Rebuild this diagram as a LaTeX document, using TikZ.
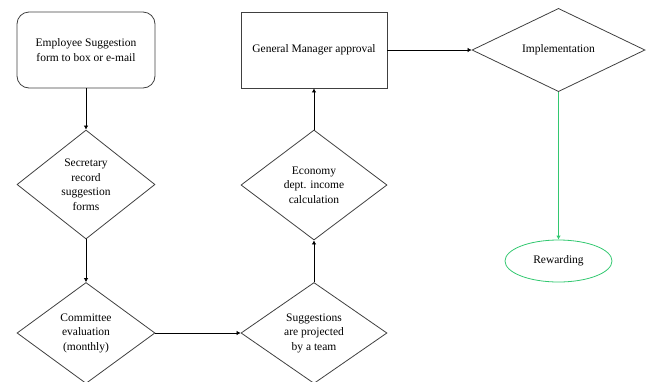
\documentclass[tikz,border=0pt]{standalone}
\usepackage{fontspec}
\setmainfont{Liberation Serif}
\usetikzlibrary{shapes.geometric,arrows.meta}
\definecolor{lineg}{RGB}{64,64,64}
\definecolor{greenl}{RGB}{50,200,112}
\begin{document}
\begin{tikzpicture}[x=1pt,y=-1pt,
  every node/.style={font=\fontsize{11.5}{14.5}\selectfont, align=center, text=black},
  boxr/.style={draw=lineg, line width=0.8pt, rounded corners=12pt, inner sep=0pt, minimum width=138pt, minimum height=76pt},
  boxs/.style={draw=lineg, line width=0.8pt, inner sep=0pt, minimum width=146pt, minimum height=76pt},
  dia/.style={draw=lineg, line width=0.8pt, diamond, inner sep=0pt},
  conn/.style={draw=black, line width=0.7pt, -{Latex[length=4pt,width=4.5pt]}},
  gconn/.style={draw=greenl, line width=0.9pt, -{Latex[length=4pt,width=4.5pt]}}
]
\useasboundingbox (0,0) rectangle (651,381);
\node[boxr] (emp) at (86,50) {Employee Suggestion\\form to box or e-mail};
\node[dia, minimum width=138pt, minimum height=109pt] (sec) at (86,184.5) {Secretary\\record\\suggestion\\forms};
\node[dia, minimum width=138pt, minimum height=101pt] (com) at (86,333) {Committee\\evaluation\\(monthly)};
\node[dia, minimum width=146pt, minimum height=101pt] (sug) at (314,333) {Suggestions\\are projected\\by a team};
\node[dia, minimum width=146pt, minimum height=110pt] (eco) at (314,185) {Economy\\dept. income\\calculation};
\node[boxs] (gm) at (314,50) {General Manager approval};
\node[dia, minimum width=173pt, minimum height=76pt] (imp) at (558.5,50) {Implementation};
\node[draw=greenl, line width=0.8pt, ellipse, inner sep=0pt, minimum width=107pt, minimum height=42pt] (rew) at (558.5,261) {Rewarding};
\draw[conn] (emp) -- (sec);
\draw[conn] (sec) -- (com);
\draw[conn] (com) -- (sug);
\draw[conn] (sug) -- (eco);
\draw[conn] (eco) -- (gm);
\draw[conn] (gm) -- (imp);
\draw[gconn] (imp) -- (rew);
\end{tikzpicture}
\end{document}
